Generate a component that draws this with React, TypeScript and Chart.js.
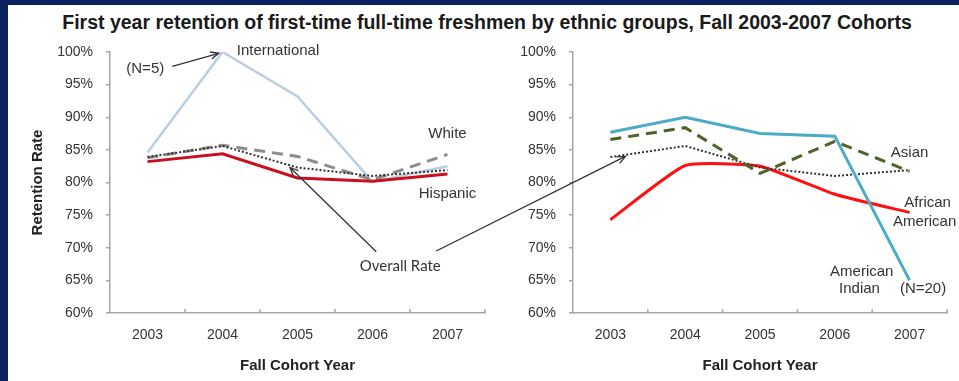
import React, { useEffect, useRef } from 'react';
import { Chart, registerables } from 'chart.js';
Chart.register(...registerables);

// ---------- data ----------
const years = ['2003', '2004', '2005', '2006', '2007'];
const yMin = 60;
const yMax = 100;
const yStep = 5;

const international = [84.6, 100, 93.2, 80.1, 82.5];
const white = [83.8, 85.7, 84.0, 80.4, 84.3];
const overallRate = [83.9, 85.6, 82.3, 81.0, 81.9];
const hispanic = [83.2, 84.4, 80.7, 80.2, 81.3];

const americanIndian = [87.7, 90.0, 87.5, 87.1, 65.0];
const asian = [86.6, 88.4, 81.4, 86.3, 81.7];
const africanAmerican = [74.3, 82.6, 82.5, 78.2, 75.4];

const titleText = 'First year retention of first-time full-time freshmen by ethnic groups, Fall 2003-2007 Cohorts';
const yTitle = 'Retention Rate';
const xTitle = 'Fall Cohort Year';

// annotation anchors in data coordinates (category index, percent)
const leftLabels = [
  { text: 'International', x: 1.74, y: 100.2 },
  { text: '(N=5)', x: -0.03, y: 97.4 },
  { text: 'White', x: 4.0, y: 87.4 },
  { text: 'Hispanic', x: 4.0, y: 78.2 },
];
const rightLabels = [
  { text: 'Asian', x: 4.0, y: 84.6 },
  { text: 'African', x: 4.24, y: 76.9 },
  { text: 'American', x: 4.2, y: 74.0 },
  { text: 'American', x: 3.36, y: 66.3 },
  { text: 'Indian', x: 3.33, y: 63.7 },
  { text: '(N=20)', x: 4.18, y: 63.7 },
];
const overallLabel = { text: 'Overall Rate', x: 3.37, y: 67.2 };

// ---------- styles ----------
const FONT = "'Liberation Sans', Arial, sans-serif";
const AXIS_COLOR = '#a6a6a6';
const TEXT_COLOR = '#333333';
const NAVY = '#0b2263';

const LEFT = { left: 8, top: 30, width: 480, height: 351 };
const RIGHT = { left: 488, top: 30, width: 471, height: 351 };

const innerTicks = {
  id: 'innerTicks',
  afterDraw(chart: any) {
    const x = chart.scales.x;
    const ctx = chart.ctx;
    ctx.save();
    ctx.strokeStyle = AXIS_COLOR;
    ctx.lineWidth = 1.5;
    for (let i = 0; i < years.length; i++) {
      const px = x.getPixelForValue(i + 0.5);
      ctx.beginPath();
      ctx.moveTo(px, chart.chartArea.bottom);
      ctx.lineTo(px, chart.chartArea.bottom - 4);
      ctx.stroke();
    }
    ctx.restore();
  },
};

function makeOptions(yScaleWidth: number, showYTitle: boolean, padRight: number) {
  return {
    responsive: false,
    animation: false as const,
    devicePixelRatio: 1,
    layout: { padding: { top: 22, right: padRight, bottom: 0, left: 0 } },
    plugins: { legend: { display: false }, tooltip: { enabled: false } },
    elements: { point: { radius: 0 } },
    scales: {
      x: {
        offset: true,
        grid: { offset: true, drawOnChartArea: false, drawTicks: false },
        border: { color: AXIS_COLOR, width: 1.5 },
        ticks: { padding: 14, color: TEXT_COLOR, font: { size: 14, family: FONT } },
        title: {
          display: true,
          text: xTitle,
          color: '#222',
          font: { size: 15, weight: 'bold' as const, family: FONT },
          padding: { top: 0, bottom: 6 },
        },
        afterFit(s: any) {
          s.height = 68;
        },
      },
      y: {
        min: yMin,
        max: yMax,
        ticks: {
          stepSize: yStep,
          padding: 13,
          color: TEXT_COLOR,
          font: { size: 14, family: FONT },
          callback: (v: any) => v + '%',
        },
        grid: { drawOnChartArea: false, drawTicks: true, tickLength: 4, color: AXIS_COLOR, lineWidth: 1.5 },
        border: { color: AXIS_COLOR, width: 1.5 },
        title: {
          display: showYTitle,
          text: yTitle,
          color: '#222',
          font: { size: 15, weight: 'bold' as const, family: FONT },
          padding: { top: 21, bottom: 0 },
        },
        afterFit(s: any) {
          s.width = yScaleWidth;
        },
      },
    },
  };
}

function pt(chart: any, off: { left: number; top: number }, xi: number, yv: number): [number, number] {
  return [chart.scales.x.getPixelForValue(xi) + off.left, chart.scales.y.getPixelForValue(yv) + off.top];
}

function arrow(ctx: CanvasRenderingContext2D, a: [number, number], b: [number, number]) {
  ctx.beginPath();
  ctx.moveTo(a[0], a[1]);
  ctx.lineTo(b[0], b[1]);
  ctx.stroke();
  const ang = Math.atan2(b[1] - a[1], b[0] - a[0]);
  const len = 9;
  const spread = 0.42;
  ctx.beginPath();
  ctx.moveTo(b[0] - len * Math.cos(ang - spread), b[1] - len * Math.sin(ang - spread));
  ctx.lineTo(b[0], b[1]);
  ctx.lineTo(b[0] - len * Math.cos(ang + spread), b[1] - len * Math.sin(ang + spread));
  ctx.stroke();
}

export default function App() {
  const leftRef = useRef<HTMLCanvasElement>(null);
  const rightRef = useRef<HTMLCanvasElement>(null);
  const overRef = useRef<HTMLCanvasElement>(null);

  useEffect(() => {
    const left = new Chart(leftRef.current!, {
      type: 'line',
      data: {
        labels: years,
        datasets: [
          { label: 'Hispanic', data: hispanic, borderColor: '#c8101e', borderWidth: 3, tension: 0 },
          { label: 'Overall Rate', data: overallRate, borderColor: '#333333', borderWidth: 2, borderDash: [2, 2], tension: 0 },
          { label: 'White', data: white, borderColor: '#8c8c8c', borderWidth: 3, borderDash: [11, 7], tension: 0 },
          { label: 'International', data: international, borderColor: '#b9cde5', borderWidth: 2.5, tension: 0 },
        ],
      },
      options: makeOptions(102, true, 3) as any,
      plugins: [innerTicks],
    });
    const right = new Chart(rightRef.current!, {
      type: 'line',
      data: {
        labels: years,
        datasets: [
          { label: 'American Indian', data: americanIndian, borderColor: '#4bacc6', borderWidth: 3, tension: 0 },
          { label: 'Asian', data: asian, borderColor: '#4f6228', borderWidth: 3, borderDash: [11, 7], tension: 0 },
          { label: 'Overall Rate', data: overallRate, borderColor: '#333333', borderWidth: 2, borderDash: [2, 2], tension: 0 },
          { label: 'African American', data: africanAmerican, borderColor: '#ff1010', borderWidth: 3, tension: 0.15 },
        ],
      },
      options: makeOptions(85, false, 12) as any,
      plugins: [innerTicks],
    });

    const c = overRef.current!;
    const ctx = c.getContext('2d')!;
    ctx.clearRect(0, 0, c.width, c.height);
    ctx.fillStyle = TEXT_COLOR;
    ctx.textAlign = 'center';
    ctx.textBaseline = 'middle';
    ctx.font = `15px ${FONT}`;
    leftLabels.forEach((l) => {
      const p = pt(left, LEFT, l.x, l.y);
      ctx.fillText(l.text, p[0], p[1]);
    });
    rightLabels.forEach((l) => {
      const p = pt(right, RIGHT, l.x, l.y);
      ctx.fillText(l.text, p[0], p[1]);
    });
    ctx.font = `15px Lato, 'Open Sans', sans-serif`;
    const op = pt(left, LEFT, overallLabel.x, overallLabel.y);
    ctx.fillText(overallLabel.text, op[0], op[1]);

    ctx.strokeStyle = '#333';
    ctx.lineWidth = 1.3;
    arrow(ctx, pt(left, LEFT, 0.33, 97.8), pt(left, LEFT, 0.95, 99.8));
    arrow(ctx, pt(left, LEFT, 3.05, 69.4), pt(left, LEFT, 1.9, 82.3));
    arrow(ctx, pt(left, LEFT, 3.85, 69.5), pt(right, RIGHT, 0.2, 84.0));

    return () => {
      left.destroy();
      right.destroy();
    };
  }, []);

  return (
    <div
      style={{
        position: 'fixed',
        left: 0,
        top: 0,
        width: 959,
        height: 381,
        background: '#fff',
        overflow: 'hidden',
      }}
    >
      <div style={{ position: 'absolute', left: 0, top: 0, width: 959, height: 5, background: NAVY }} />
      <div style={{ position: 'absolute', left: 0, top: 0, width: 8, height: 381, background: NAVY }} />
      <div
        style={{
          position: 'absolute',
          left: 8,
          top: 11,
          width: 958,
          textAlign: 'center',
          font: `bold 19.5px ${FONT}`,
          lineHeight: '22px',
          color: '#1a1a1a',
          whiteSpace: 'nowrap',
        }}
      >
        {titleText}
      </div>
      <canvas
        ref={leftRef}
        width={LEFT.width}
        height={LEFT.height}
        style={{ position: 'absolute', left: LEFT.left, top: LEFT.top, width: LEFT.width, height: LEFT.height }}
      />
      <canvas
        ref={rightRef}
        width={RIGHT.width}
        height={RIGHT.height}
        style={{ position: 'absolute', left: RIGHT.left, top: RIGHT.top, width: RIGHT.width, height: RIGHT.height }}
      />
      <canvas
        ref={overRef}
        width={959}
        height={381}
        style={{ position: 'absolute', left: 0, top: 0, width: 959, height: 381, pointerEvents: 'none' }}
      />
    </div>
  );
}
